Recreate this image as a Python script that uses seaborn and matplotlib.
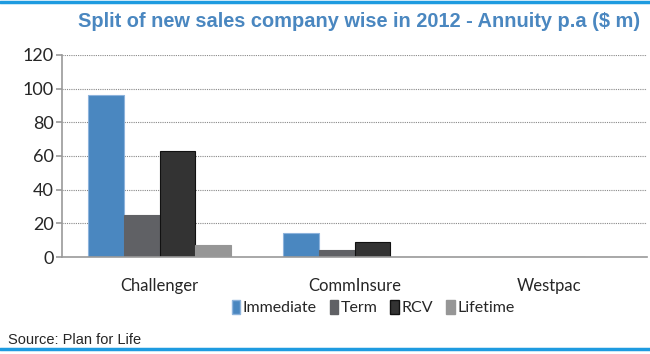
import matplotlib
matplotlib.use("Agg")
import matplotlib.pyplot as plt
from matplotlib.lines import Line2D
from matplotlib.patches import Patch
import seaborn as sns
import pandas as pd
import numpy as np

companies = ['Challenger', 'CommInsure', 'Westpac']
series = ['Immediate', 'Term', 'RCV', 'Lifetime']
immediate = [96, 14, 0]
term = [25, 4, 0]
rcv = [63, 9, 0]
lifetime = [7, 0, 0]
yticks = [0, 20, 40, 60, 80, 100, 120]

colors = ['#4A87C0', '#606165', '#333333', '#969696']
edges = ['#8DB3DC', '#606165', '#111111', '#969696']

rows = []
for name, vals in zip(series, [immediate, term, rcv, lifetime]):
    for c, v in zip(companies, vals):
        rows.append({'company': c, 'type': name, 'value': v})
df = pd.DataFrame(rows)

sns.set_style("white")
plt.rcParams['font.family'] = ['Lato', 'DejaVu Sans']

fig = plt.figure(figsize=(6.5, 3.54), dpi=100)
ax = fig.add_axes([0.0954, 0.274, 0.9, 0.571])

sns.barplot(data=df, x='company', y='value', hue='type', order=companies,
            hue_order=series, palette=colors, width=0.73, ax=ax,
            legend=False, saturation=1)
for i, cont in enumerate(ax.containers):
    for p in cont:
        p.set_edgecolor(edges[i])
        p.set_linewidth(0.8)

ax.set_xlim(-0.5, 2.5)
ax.set_ylim(0, 120)
ax.set_yticks(yticks)
ax.set_yticklabels([str(t) for t in yticks], fontsize=13)
for t in yticks[1:]:
    ax.axhline(t, color='#888888', linestyle=(0, (1, 1)), linewidth=0.8, zorder=0)

ax.set_xticks(range(len(companies)))
ax.set_xticklabels(companies, fontsize=12)
ax.set_xticks([-0.5, 0.5, 1.5, 2.5], minor=True)
ax.tick_params(axis='x', which='major', length=0, pad=15)
ax.tick_params(axis='x', which='minor', length=7, color='#999999', width=1.2, direction='out')
ax.tick_params(axis='y', length=4, color='#999999', width=1.2, direction='out', pad=2, left=True)
ax.set_xlabel('')
ax.set_ylabel('')
for s in ['top', 'right']:
    ax.spines[s].set_visible(False)
for s in ['left', 'bottom']:
    ax.spines[s].set_color('#999999')
    ax.spines[s].set_linewidth(1.2)

handles = [Patch(facecolor=colors[i], edgecolor=edges[i], label=series[i]) for i in range(4)]
fig.legend(handles=handles, loc='center', bbox_to_anchor=(0.574, 0.131), ncol=4, frameon=False,
           fontsize=11.5, handlelength=0.55, handleheight=1.0, handletextpad=0.15, columnspacing=0.8,
           borderaxespad=0)

fig.text(0.985, 0.94, 'Split of new sales company wise in 2012 - Annuity p.a ($ m)',
         ha='right', va='center', fontsize=14.4, fontweight='bold', color='#4A87C0',
         family=['Liberation Sans', 'DejaVu Sans'])
fig.text(0.012, 0.04, 'Source: Plan for Life', ha='left', va='center', fontsize=10.5,
         family=['Liberation Sans', 'DejaVu Sans'])
fig.add_artist(Line2D([0, 1], [0.995, 0.995], color='#1E9BE0', linewidth=2.5, transform=fig.transFigure))
fig.add_artist(Line2D([0, 1], [0.013, 0.013], color='#1E9BE0', linewidth=2.5, transform=fig.transFigure))

plt.savefig('out.png', dpi=100)
